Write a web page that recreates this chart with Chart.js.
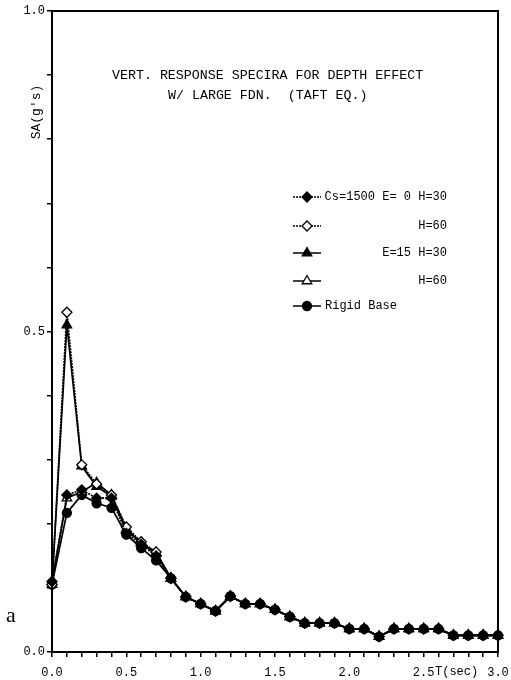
<!DOCTYPE html>
<html>
<head>
<meta charset="utf-8">
<script src="https://cdn.jsdelivr.net/npm/chart.js@4.4.1/dist/chart.umd.min.js"></script>
<style>
  html, body { margin: 0; padding: 0; background: #fff; }
  #box { width: 511px; height: 680px; }
</style>
</head>
<body>
<div id="box"><canvas id="saChart"></canvas></div>
<script>
// 주기 T(sec)
const periods = [0.0, 0.1, 0.2, 0.3, 0.4, 0.5, 0.6, 0.7, 0.8, 0.9, 1.0,
                 1.1, 1.2, 1.3, 1.4, 1.5, 1.6, 1.7, 1.8, 1.9, 2.0,
                 2.1, 2.2, 2.3, 2.4, 2.5, 2.6, 2.7, 2.8, 2.9, 3.0]

// SA(g's) 값
const e0h30  = [0.110, 0.245, 0.253, 0.240, 0.240, 0.185, 0.168, 0.150, 0.115, 0.086, 0.075,
                0.064, 0.087, 0.075, 0.075, 0.066, 0.055, 0.045, 0.045, 0.045, 0.036,
                0.036, 0.024, 0.036, 0.036, 0.036, 0.036, 0.026, 0.026, 0.026, 0.026]
const e0h60  = [0.105, 0.530, 0.292, 0.262, 0.245, 0.195, 0.172, 0.156, 0.115, 0.086, 0.075,
                0.064, 0.087, 0.075, 0.075, 0.066, 0.055, 0.045, 0.045, 0.045, 0.036,
                0.036, 0.024, 0.036, 0.036, 0.036, 0.036, 0.026, 0.026, 0.026, 0.026]
const e15h30 = [0.105, 0.510, 0.290, 0.258, 0.243, 0.190, 0.170, 0.153, 0.115, 0.086, 0.075,
                0.064, 0.087, 0.075, 0.075, 0.066, 0.055, 0.045, 0.045, 0.045, 0.036,
                0.036, 0.024, 0.036, 0.036, 0.036, 0.036, 0.026, 0.026, 0.026, 0.026]
const e15h60 = [0.110, 0.240, 0.250, 0.264, 0.245, 0.192, 0.170, 0.155, 0.115, 0.086, 0.075,
                0.064, 0.087, 0.075, 0.075, 0.066, 0.055, 0.045, 0.045, 0.045, 0.036,
                0.036, 0.024, 0.036, 0.036, 0.036, 0.036, 0.026, 0.026, 0.026, 0.026]
const rigid  = [0.105, 0.217, 0.245, 0.232, 0.225, 0.183, 0.162, 0.143, 0.115, 0.086, 0.075,
                0.064, 0.087, 0.075, 0.075, 0.066, 0.055, 0.045, 0.045, 0.045, 0.036,
                0.036, 0.024, 0.036, 0.036, 0.036, 0.036, 0.026, 0.026, 0.026, 0.026]

const legendTexts = ['Cs=1500 E= 0 H=30', 'H=60', 'E=15 H=30', 'H=60', 'Rigid Base']
const titleLines = ['VERT. RESPONSE SPECIRA FOR DEPTH EFFECT', 'W/ LARGE FDN.  (TAFT EQ.)']

const monoFont = '"Liberation Mono", "DejaVu Sans Mono", monospace'

function toXY(arr) {
	return periods.map((t, i) => ({ x: t, y: arr[i] }))
}

// 점 스타일
const styles = [
	{ style: 'rectRot',  fill: '#000', dash: [2, 1], r: 5 },
	{ style: 'rectRot',  fill: '#fff', dash: [2, 1], r: 5 },
	{ style: 'triangle', fill: '#000', dash: [],     r: 5.5 },
	{ style: 'triangle', fill: '#fff', dash: [],     r: 5.5 },
	{ style: 'circle',   fill: '#000', dash: [],     r: 4.5 }
]
const seriesData = [e0h30, e0h60, e15h30, e15h60, rigid]

const datasets = seriesData.map((arr, i) => ({
	label: legendTexts[i],
	data: toXY(arr),
	borderColor: '#000',
	borderWidth: 1.7,
	borderDash: styles[i].dash,
	pointStyle: styles[i].style,
	pointRadius: styles[i].r,
	pointBackgroundColor: styles[i].fill,
	pointBorderColor: '#000',
	pointBorderWidth: 1.3,
	tension: 0,
	fill: false,
	clip: false
}))

// 제목, 범례, 틀 그리기
const decorPlugin = {
	id: 'decor',
	afterDraw(chart) {
		const ctx = chart.ctx
		const a = chart.chartArea
		ctx.save()

		// frame
		ctx.strokeStyle = '#000'
		ctx.lineWidth = 2
		ctx.strokeRect(a.left, a.top, a.right - a.left, a.bottom - a.top)

		ctx.fillStyle = '#000'
		ctx.textBaseline = 'middle'

		// title
		ctx.font = '13.3px ' + monoFont
		ctx.textAlign = 'left'
		ctx.fillText(titleLines[0], 112, 75)
		ctx.fillText(titleLines[1], 168, 95)

		// legend
		const rows = [197, 226, 253, 281, 306]
		ctx.font = '12px ' + monoFont
		rows.forEach((y, i) => {
			ctx.save()
			ctx.lineWidth = 1.5
			ctx.setLineDash(styles[i].dash)
			ctx.beginPath()
			ctx.moveTo(293, y)
			ctx.lineTo(321, y)
			ctx.stroke()
			ctx.restore()
			drawMarker(ctx, styles[i], 307, y)
			if (i < 4) {
				ctx.textAlign = 'right'
				ctx.fillText(legendTexts[i], 447, y)
			} else {
				ctx.textAlign = 'left'
				ctx.fillText(legendTexts[i], 325, y)
			}
		})

		// axis titles
		ctx.textAlign = 'left'
		ctx.fillText('T(sec)', 435, 672)

		ctx.save()
		ctx.translate(37, 112)
		ctx.rotate(-Math.PI / 2)
		ctx.textAlign = 'center'
		ctx.font = '13px ' + monoFont
		ctx.fillText("SA(g's)", 0, 0)
		ctx.restore()

		ctx.font = '22px "Liberation Serif", "DejaVu Serif", serif'
		ctx.textAlign = 'left'
		ctx.fillText('a', 6, 616)

		ctx.restore()
	}
}

function drawMarker(ctx, s, x, y) {
	const r = s.r
	ctx.save()
	ctx.fillStyle = s.fill
	ctx.strokeStyle = '#000'
	ctx.lineWidth = 1.3
	ctx.beginPath()
	if (s.style === 'rectRot') {
		ctx.moveTo(x, y - r)
		ctx.lineTo(x + r, y)
		ctx.lineTo(x, y + r)
		ctx.lineTo(x - r, y)
		ctx.closePath()
	} else if (s.style === 'triangle') {
		ctx.moveTo(x, y - r)
		ctx.lineTo(x + r * 0.87, y + r * 0.5)
		ctx.lineTo(x - r * 0.87, y + r * 0.5)
		ctx.closePath()
	} else {
		ctx.arc(x, y, r, 0, Math.PI * 2)
	}
	ctx.fill()
	ctx.stroke()
	ctx.restore()
}

function halfStep(v) {
	return Math.abs(v * 2 - Math.round(v * 2)) < 1e-6
}

new Chart(document.getElementById('saChart'), {
	type: 'line',
	data: { datasets: datasets },
	options: {
		responsive: true,
		maintainAspectRatio: false,
		animation: false,
		layout: { padding: { top: 11, right: 13, left: 0, bottom: 0 } },
		plugins: {
			legend: { display: false },
			tooltip: { enabled: false }
		},
		scales: {
			x: {
				type: 'linear',
				min: 0,
				max: 3,
				afterFit: s => { s.height = 28; s.paddingLeft = 0; s.paddingRight = 0 },
				border: { color: '#000', width: 2 },
				grid: { drawOnChartArea: false, drawTicks: true, tickLength: 5, color: '#000', lineWidth: 1.5 },
				ticks: {
					stepSize: 0.1,
					autoSkip: false,
					maxRotation: 0,
					padding: 9,
					color: '#000',
					font: { family: monoFont, size: 12 },
					callback: v => halfStep(v) ? v.toFixed(1) : ''
				}
			},
			y: {
				min: 0,
				max: 1,
				afterFit: s => { s.width = 52; s.paddingTop = 0; s.paddingBottom = 0 },
				border: { color: '#000', width: 2 },
				grid: { drawOnChartArea: false, drawTicks: true, tickLength: 5, color: '#000', lineWidth: 1.5 },
				ticks: {
					stepSize: 0.1,
					autoSkip: false,
					padding: 2,
					color: '#000',
					font: { family: monoFont, size: 12 },
					callback: v => halfStep(v) ? v.toFixed(1) : ''
				}
			}
		}
	},
	plugins: [decorPlugin]
})
</script>
</body>
</html>
